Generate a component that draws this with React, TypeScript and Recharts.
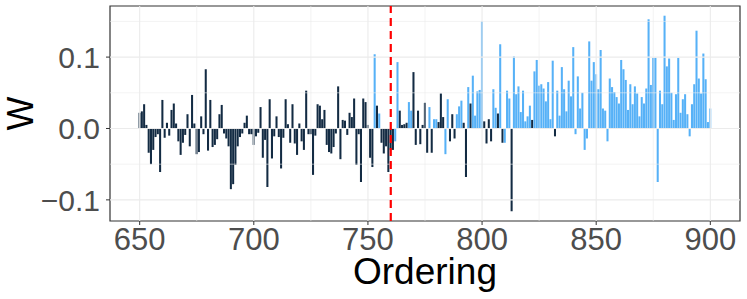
import React from 'react';
import {
  BarChart,
  Bar,
  XAxis,
  YAxis,
  ReferenceLine,
  ReferenceArea,
  Cell,
} from 'recharts';

// Ordering starts here and goes up by one per bar
const FIRST_ORDERING = 650;

// W per ordering, 650..900
const wValues = [
  0.022, 0.024, 0.034, 0.005, -0.034, -0.05, -0.03, -0.012, -0.008, -0.061,
  0.04, -0.013, 0.008, -0.01, 0.026, 0.035, 0.007, -0.018, -0.037, -0.02,
  -0.009, 0.02, -0.025, 0.047, 0.007, -0.036, -0.033, 0.017, -0.008, 0.083,
  -0.031, 0.04, -0.026, -0.023, -0.015, 0.02, 0.033, -0.007, -0.014, -0.025,
  -0.085, -0.078, -0.051, -0.025, -0.012, -0.007, 0.008, 0.018, -0.008, -0.008,
  -0.023, -0.011, -0.006, 0.03, -0.041, -0.016, -0.082, 0.041, -0.042, -0.011,
  0.017, -0.012, -0.056, -0.013, 0.041, 0.006, -0.02, 0.034, -0.021, -0.037,
  0.007, -0.018, -0.03, 0.053, -0.008, -0.008, -0.065, -0.01, 0.034, 0.032,
  0.013, 0.026, -0.023, -0.033, -0.035, -0.026, -0.007, 0.059, -0.043, 0.012,
  0.011, -0.009, 0.022, 0.016, 0.042, -0.051, -0.008, -0.075, 0.042, 0.037,
  0.005, -0.041, -0.054, 0.104, 0.032, 0.021, -0.02, -0.035, -0.025, -0.061,
  -0.03, -0.03, -0.018, 0.093, 0.025, 0.005, 0.006, 0.008, 0.037, 0.025,
  0.079, -0.023, 0.025, -0.022, 0.005, 0.036, -0.034, 0.03, -0.034, 0.013,
  0.013, 0.009, 0.049, 0.016, -0.036, 0.041, -0.018, 0.02, -0.014, 0.02,
  0.031, 0.039, 0.008, -0.068, 0.058, 0.035, 0.074, 0.018, 0.052, 0.054,
  0.15, 0.01, -0.021, 0.013, -0.018, 0.055, 0.029, 0.021, 0.118, -0.02,
  -0.02, 0.053, 0.042, -0.116, 0.101, 0.048, 0.059, 0.023, 0.053, 0.01,
  0.017, 0.032, 0.012, 0.08, 0.096, 0.06, 0.062, 0.056, 0.038, 0.065,
  0.013, 0.095, -0.011, 0.053, 0.018, 0.086, 0.055, 0.024, 0.067, 0.045,
  0.114, -0.008, 0.073, 0.028, 0.05, -0.03, -0.014, 0.122, 0.067, 0.093,
  0.076, 0.055, 0.11, 0.028, 0.025, -0.018, 0.07, 0.058, 0.051, 0.044,
  0.035, 0.096, 0.083, 0.068, 0.026, 0.062, 0.034, 0.059, 0.049, 0.017,
  0.044, 0.035, 0.056, 0.153, 0.061, 0.099, 0.099, -0.075, 0.053, 0.034,
  0.158, 0.087, 0.098, 0.05, 0.012, 0.048, 0.099, 0.022, 0.041, 0.048,
  0.02, -0.011, 0.034, 0.062, 0.137, 0.07, 0.049, 0.105, 0.069, 0.009,
  0.028,
];

// 1 = light blue bar, 0 = dark bar
const selected = [
  0, 0, 0, 0, 0, 0, 0, 0, 0, 0,
  0, 0, 0, 0, 0, 0, 0, 0, 0, 0,
  0, 0, 0, 0, 0, 0, 0, 0, 0, 0,
  0, 0, 0, 0, 0, 0, 0, 0, 0, 0,
  0, 0, 0, 0, 0, 0, 0, 0, 0, 0,
  0, 0, 0, 0, 0, 0, 0, 0, 0, 0,
  0, 0, 0, 0, 0, 0, 0, 0, 0, 0,
  0, 0, 0, 0, 0, 0, 0, 0, 0, 0,
  0, 0, 0, 0, 0, 0, 0, 0, 0, 0,
  0, 0, 0, 0, 0, 0, 0, 0, 0, 0,
  0, 0, 0, 1, 0, 1, 0, 0, 0, 0,
  0, 0, 1, 1, 0, 0, 0, 0, 1, 1,
  0, 0, 0, 0, 0, 0, 0, 1, 0, 1,
  1, 0, 0, 0, 1, 1, 0, 0, 0, 1,
  1, 1, 0, 0, 1, 0, 1, 1, 1, 1,
  1, 0, 0, 0, 0, 1, 1, 0, 1, 0,
  1, 1, 1, 0, 1, 1, 1, 1, 1, 1,
  1, 1, 0, 1, 1, 1, 1, 1, 1, 1,
  1, 1, 0, 1, 1, 1, 1, 1, 1, 1,
  1, 1, 1, 1, 1, 1, 1, 1, 1, 1,
  1, 1, 1, 1, 1, 1, 1, 1, 1, 1,
  1, 1, 1, 1, 1, 1, 1, 1, 1, 1,
  1, 1, 1, 1, 1, 1, 1, 1, 1, 1,
  1, 1, 1, 1, 1, 1, 1, 1, 1, 1,
  1, 1, 1, 1, 1, 1, 1, 1, 1, 1,
  1,
];

const xTicks = [650, 700, 750, 800, 850, 900];
const xMinorTicks = [675, 725, 775, 825, 875];
const yTicks = [-0.1, 0, 0.1];
const yMinorTicks = [-0.05, 0.05, 0.15];
const cutoff = 760;

const xDomain: [number, number] = [637, 913];
const yDomain: [number, number] = [-0.1296, 0.1716];

const DARK = '#132B43';
const LIGHT = '#56B1F7';
const GRID = '#EBEBEB';
const FONT = '"Liberation Sans", Arial, Helvetica, sans-serif';

const data = wValues.map((w, i) => ({
  ordering: FIRST_ORDERING + i,
  w,
  selected: selected[i] === 1,
}));

const formatY = (v: number) => v.toFixed(1).replace('-', '\u2212');

export default function App() {
  return (
    <div style={{ width: 747, height: 299, fontFamily: FONT }}>
      <style>{'body { margin: 0; }'}</style>
      <BarChart
        width={747}
        height={299}
        data={data}
        margin={{ top: 6, right: 7, bottom: 0, left: 0 }}
      >
        <XAxis
          type="number"
          dataKey="ordering"
          domain={xDomain}
          ticks={xTicks}
          allowDataOverflow
          height={78}
          axisLine={false}
          tickSize={4}
          tickMargin={3}
          tickLine={{ stroke: '#333333' }}
          tick={{ fontSize: 31, fill: '#4D4D4D' }}
          label={{
            content: (p: any) => {
              const vb = p.viewBox;
              return (
                <text
                  x={vb.x + vb.width / 2}
                  y={vb.y + 63}
                  textAnchor="middle"
                  fontSize={37}
                  fill="#000000"
                >
                  Ordering
                </text>
              );
            },
          }}
        />
        <YAxis
          type="number"
          domain={yDomain}
          ticks={yTicks}
          allowDataOverflow
          width={110}
          axisLine={false}
          tickSize={4}
          tickMargin={6}
          tickLine={{ stroke: '#333333' }}
          tick={{ fontSize: 30, fill: '#4D4D4D' }}
          tickFormatter={formatY}
          label={{
            content: (p: any) => {
              const vb = p.viewBox;
              const cx = vb.x + 20;
              const cy = vb.y + vb.height / 2;
              return (
                <text
                  x={cx}
                  y={cy}
                  transform={`rotate(-90, ${cx}, ${cy})`}
                  textAnchor="middle"
                  dominantBaseline="central"
                  fontSize={36}
                  fill="#000000"
                >
                  W
                </text>
              );
            },
          }}
        />

        {/* grid lines, ggplot theme_bw style */}
        {yMinorTicks.map((v) => (
          <ReferenceLine key={`ym${v}`} y={v} stroke={GRID} strokeWidth={0.6} />
        ))}
        {xMinorTicks.map((v) => (
          <ReferenceLine key={`xm${v}`} x={v} stroke={GRID} strokeWidth={0.6} />
        ))}
        {yTicks.map((v) => (
          <ReferenceLine key={`y${v}`} y={v} stroke={GRID} strokeWidth={1.1} />
        ))}
        {xTicks.map((v) => (
          <ReferenceLine key={`x${v}`} x={v} stroke={GRID} strokeWidth={1.1} />
        ))}

        <Bar dataKey="w" barSize={2.05} isAnimationActive={false}>
          {data.map((d) => (
            <Cell key={d.ordering} fill={d.selected ? LIGHT : DARK} />
          ))}
        </Bar>

        <ReferenceLine
          x={cutoff}
          stroke="#FF0000"
          strokeWidth={2.2}
          strokeDasharray="8 5"
        />
        <ReferenceArea
          x1={xDomain[0]}
          x2={xDomain[1]}
          y1={yDomain[0]}
          y2={yDomain[1]}
          fill="none"
          fillOpacity={0}
          stroke="#333333"
          strokeWidth={1.2}
        />
      </BarChart>
    </div>
  );
}
